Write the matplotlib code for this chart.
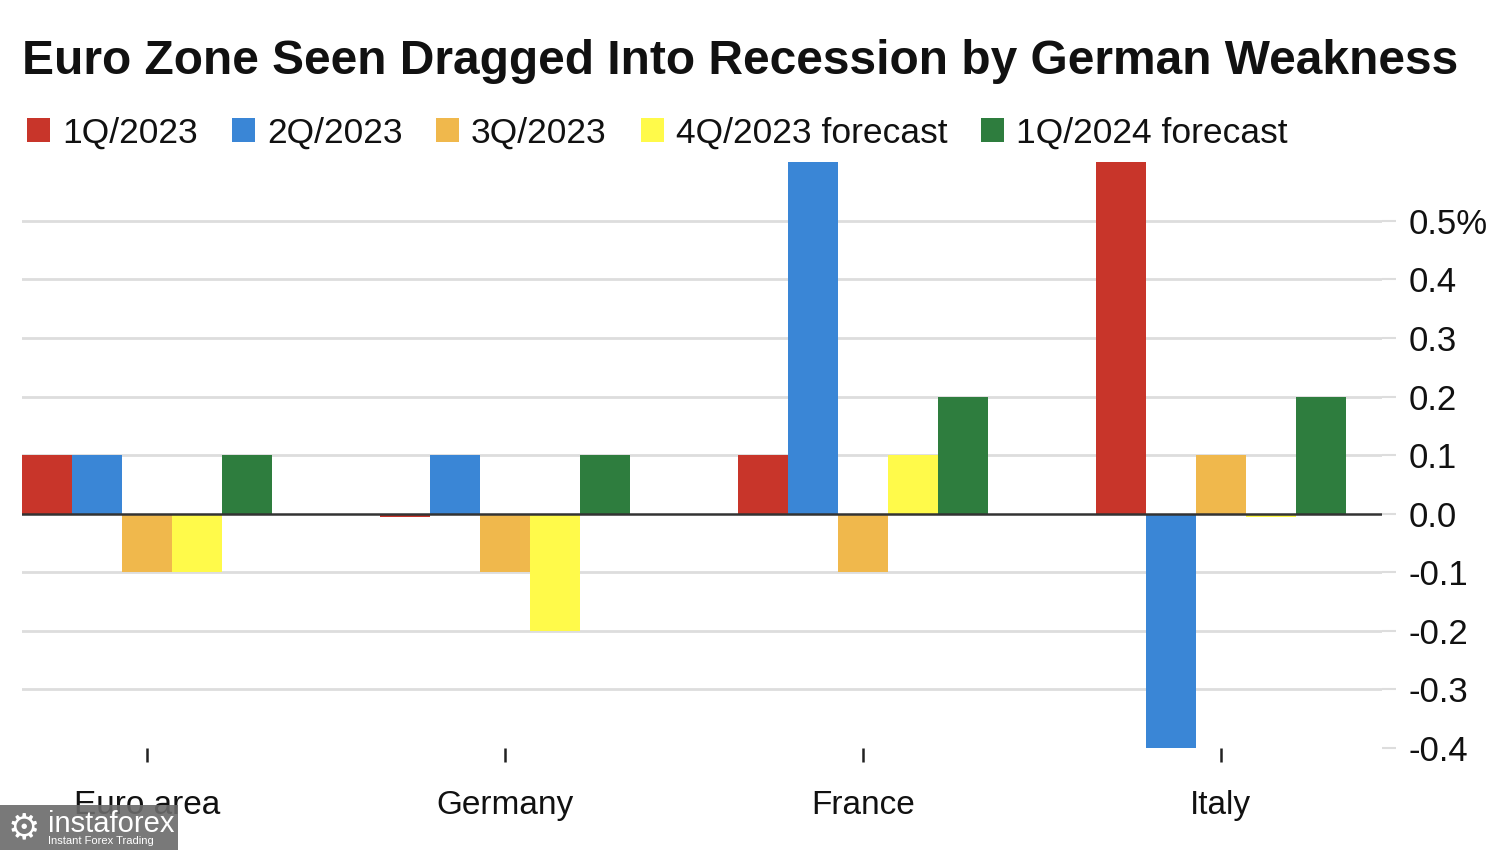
import numpy as np
import matplotlib.pyplot as plt
from matplotlib.patches import Rectangle

plt.rcParams['font.family'] = ['Liberation Sans', 'DejaVu Sans']

countries = ['Euro area', 'Germany', 'France', 'Italy']
series = ['1Q/2023', '2Q/2023', '3Q/2023', '4Q/2023 forecast', '1Q/2024 forecast']
colors = ['#c8352a', '#3a86d6', '#f0b84c', '#fffa4a', '#2e7d3e']
values = {
    '1Q/2023':          [0.1, 0.0, 0.1, 0.6],
    '2Q/2023':          [0.1, 0.1, 0.6, -0.4],
    '3Q/2023':          [-0.1, -0.1, -0.1, 0.1],
    '4Q/2023 forecast': [-0.1, -0.2, 0.1, 0.0],
    '1Q/2024 forecast': [0.1, 0.1, 0.2, 0.2],
}
yticks = [-0.4, -0.3, -0.2, -0.1, 0.0, 0.1, 0.2, 0.3, 0.4, 0.5]
ylabels = ['-0.4', '-0.3', '-0.2', '-0.1', '0.0', '0.1', '0.2', '0.3', '0.4', '0.5%']

fig = plt.figure(figsize=(15, 8.5), dpi=100)
ax = fig.add_axes([22/1500, 102/850, 1360/1500, 588/850])

x = np.arange(len(countries))
w = 0.1397
for i, s in enumerate(series):
    v = np.array(values[s], dtype=float)
    h = np.where(v == 0, -0.006, v)  # zero values shown as a thin sliver
    ax.bar(x + (i - 2) * w, h, width=w, color=colors[i], label=s, zorder=3)

ax.set_xlim(-0.349, 3.45)
ax.set_ylim(-0.4, 0.604)

for t in yticks:
    if t not in (-0.4, 0.0):
        ax.axhline(t, color='#dddddd', lw=2, zorder=1)
ax.axhline(0, color='#333333', lw=1.8, zorder=4)

for sp in ax.spines.values():
    sp.set_visible(False)

ax.yaxis.tick_right()
ax.set_yticks(yticks)
ax.set_yticklabels(ylabels)
ax.tick_params(axis='y', length=10, width=1.5, color='#dddddd', pad=9,
               labelsize=25, labelcolor='#111111')
for lab in ax.get_yticklabels():
    lab.set_horizontalalignment('left')

ax.set_xticks(x)
ax.set_xticklabels(countries)
ax.tick_params(axis='x', length=10, width=1.8, color='#222222', pad=20,
               labelsize=24, labelcolor='#111111', direction='out')

fig.text(22/1500, 1 - 62/850, 'Euro Zone Seen Dragged Into Recession by German Weakness',
         fontsize=34.5, fontweight='bold', va='center', ha='left', color='#111111')

handles, labels = ax.get_legend_handles_labels()
fig.legend(handles, labels, loc='center left', bbox_to_anchor=(0.004, 1 - 133/850),
           ncol=5, frameon=False, fontsize=25.5, handlelength=0.65, handleheight=0.65,
           handletextpad=0.34, columnspacing=0.95, labelcolor='#111111',
           borderpad=0.3, borderaxespad=0.3)

# watermark overlay
fig.patches.append(Rectangle((0, 0), 178/1500, 45/850, transform=fig.transFigure,
                             facecolor='#6b6b6b', alpha=0.9, zorder=10))
fig.text(48/1500, 1 - 824/850, 'instaforex', fontsize=21, color='white',
         va='center', ha='left', zorder=11)
fig.text(48/1500, 1 - 841/850, 'Instant Forex Trading', fontsize=8, color='white',
         va='center', ha='left', zorder=11)
fig.text(24/1500, 1 - 828/850, '\u2699', fontsize=26, color='white',
         va='center', ha='center', zorder=11, family=['DejaVu Sans'])

fig.savefig('out.png', dpi=100)
